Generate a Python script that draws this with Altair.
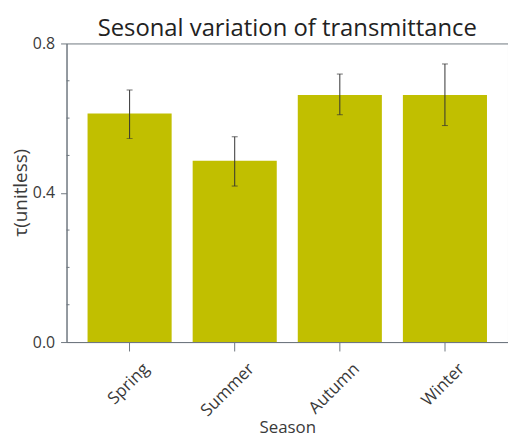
import altair as alt
import pandas as pd

seasons = ["Spring", "Summer", "Autumn", "Winter"]
means = [0.612, 0.486, 0.662, 0.662]
err_low = [0.545, 0.418, 0.609, 0.580]
err_high = [0.675, 0.550, 0.718, 0.745]
minor_ticks = [0.1, 0.2, 0.3, 0.5, 0.6, 0.7]
major_ticks = [0.0, 0.4, 0.8]

df = pd.DataFrame({"season": seasons, "mean": means, "lo": err_low, "hi": err_high})
dm = pd.DataFrame({"v": minor_ticks})

FONT = "Open Sans"
GRAY = "#6f7780"
TXT = "#3a3a3a"

x = alt.X("season:N", sort=seasons, title="Season",
          scale=alt.Scale(paddingInner=0.2, paddingOuter=0.2),
          axis=alt.Axis(labelAngle=-45, labelAlign="right", labelBaseline="middle",
                        labelOffset=17, labelFontSize=17, labelColor=TXT,
                        titleFontSize=17, titleColor=TXT, titleFontWeight="normal",
                        titleBaseline="alphabetic", titleAlign="center",
                        titleX=222.5, titleY=91,
                        tickSize=9, tickColor=GRAY, domainColor=GRAY,
                        labelPadding=15, labelFont=FONT, titleFont=FONT))
y_scale = alt.Scale(domain=[0, 0.8], nice=False)

bars = alt.Chart(df).mark_bar(color="#c1bf00").encode(
    x=x,
    y=alt.Y("mean:Q", scale=y_scale, title="τ(unitless)",
            axis=alt.Axis(values=major_ticks, format=".1f", labelFontSize=16,
                          labelColor=TXT, titleFontSize=19, titleColor=TXT,
                          titleFontWeight="normal", titleAngle=-90,
                          titleAlign="center", titleBaseline="middle",
                          titleX=-46, titleY=150, tickSize=6,
                          tickColor=GRAY, domainColor=GRAY, grid=False,
                          labelPadding=6, labelFont=FONT, titleFont=FONT)),
)

errs = alt.Chart(df).mark_errorbar(color="#333333", ticks=alt.MarkConfig(size=6)).encode(
    x=alt.X("season:N", sort=seasons),
    y=alt.Y("lo:Q", scale=y_scale, title="τ(unitless)"),
    y2="hi:Q",
)

minor = alt.Chart(dm).mark_rule(color=GRAY).encode(
    y=alt.Y("v:Q", scale=y_scale, title="τ(unitless)"),
    x=alt.value(0), x2=alt.value(3),
)

chart = alt.layer(bars, errs, minor).properties(
    width=445, height=301,
    title=alt.TitleParams("Sesonal variation of transmittance", fontSize=24,
                          font=FONT, fontWeight="normal", color="#222222",
                          offset=5, dy=10),
    autosize=alt.AutoSizeParams(type="none"),
    padding={"left": 59, "top": 34, "right": 0, "bottom": 97},
).configure_view(stroke=GRAY, strokeWidth=1)

chart.save("out.html", embed_options={"renderer": "svg", "actions": False})
